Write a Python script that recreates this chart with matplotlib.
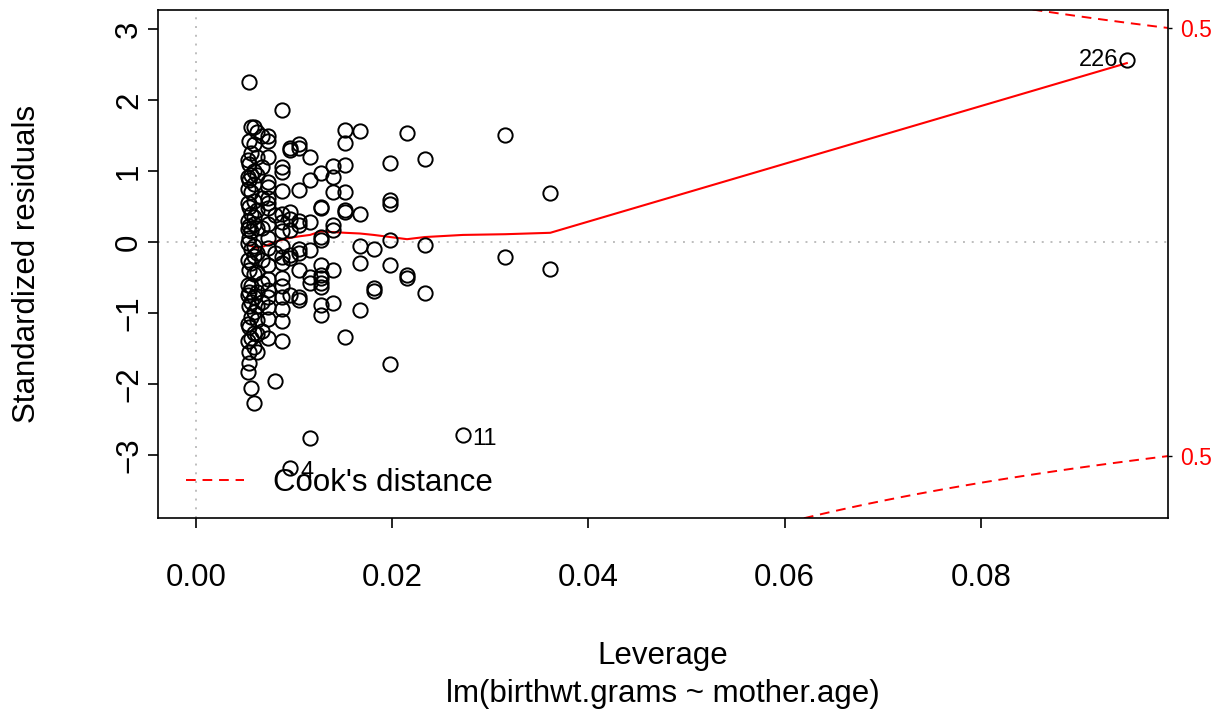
import numpy as np
import matplotlib
matplotlib.use('Agg')
import matplotlib.pyplot as plt
from matplotlib.lines import Line2D

plt.rc('font', family=['Liberation Sans', 'DejaVu Sans'])

# leverage of each column of points (one column per mother.age value)
col_lev = [0.0053, 0.0054, 0.0056, 0.0059, 0.0062, 0.0067, 0.0073, 0.0080,
           0.0087, 0.0096, 0.0105, 0.0116, 0.0127, 0.0139, 0.0152, 0.0167,
           0.0181, 0.0198, 0.0215, 0.0233, 0.0272, 0.0315, 0.0361, 0.0949]
# standardized residuals in each column
col_res = [
    [1.15, 0.92, 0.75, 0.55, 0.30, 0.18, -0.02, -0.25, -0.60, -0.75, -1.15, -1.40, -1.83],
    [2.25, 1.42, 1.10, 0.88, 0.50, 0.22, 0.05, -0.40, -0.70, -0.90, -1.20, -1.55, -1.70],
    [1.62, 1.25, 0.95, 0.70, 0.40, 0.15, -0.10, -0.30, -0.62, -0.85, -1.05, -1.35, -2.06],
    [1.62, 1.38, 1.00, 0.82, 0.58, 0.35, 0.25, -0.05, -0.20, -0.45, -0.78, -0.98, -1.28, -1.48, -2.27],
    [1.55, 1.20, 0.95, 0.45, 0.20, -0.15, -0.42, -0.70, -0.90, -1.10, -1.30, -1.55],
    [1.50, 1.05, 0.62, 0.20, -0.25, -0.58, -0.85, -1.25],
    [1.50, 1.42, 1.20, 0.85, 0.78, 0.62, 0.55, 0.48, 0.25, 0.05, -0.08, -0.32, -0.52, -0.68, -0.78, -0.92, -1.08, -1.35],
    [0.38, -0.15, -1.96],
    [1.86, 1.05, 0.98, 0.72, 0.40, 0.28, 0.15, -0.05, -0.21, -0.30, -0.50, -0.62, -0.78, -0.95, -1.11, -1.39],
    [1.33, 1.29, 0.42, 0.33, 0.17, -0.18, -0.23, -0.75, -3.18],
    [1.38, 1.33, 0.73, 0.30, 0.24, -0.10, -0.15, -0.39, -0.78, -0.82],
    [1.20, 0.87, 0.28, -0.11, -0.49, -0.58, -2.76],
    [0.97, 0.50, 0.48, 0.07, 0.03, -0.32, -0.47, -0.51, -0.58, -0.63, -0.89, -1.03],
    [1.07, 0.92, 0.71, 0.24, 0.17, -0.39, -0.86],
    [1.58, 1.39, 1.08, 0.70, 0.45, 0.42, -1.34],
    [1.56, 0.39, -0.06, -0.30, -0.96],
    [-0.10, -0.65, -0.69],
    [1.11, 0.59, 0.53, 0.03, -0.32, -1.72],
    [1.54, -0.47, -0.51],
    [1.17, -0.04, -0.72],
    [-2.72],
    [1.51, -0.21],
    [0.69, -0.38],
    [2.56],
]

# red smoother
smooth_lev = [0.0053, 0.0055, 0.0059, 0.0062, 0.0067, 0.0073, 0.0080, 0.0087,
              0.0096, 0.0105, 0.0116, 0.0127, 0.0139, 0.0152, 0.0167, 0.0181,
              0.0198, 0.0215, 0.0233, 0.0272, 0.0315, 0.0361, 0.0949]
smooth_res = [-0.04, -0.05, -0.07, -0.08, -0.07, -0.04, 0.00, 0.03,
              0.06, 0.08, 0.10, 0.15, 0.14, 0.13, 0.12, 0.10,
              0.07, 0.04, 0.07, 0.10, 0.11, 0.13, 2.52]

id_names = ['226', '11', '4']
id_lev = [0.0949, 0.0272, 0.0096]
id_res = [2.56, -2.72, -3.18]

cook_levels = [0.5]
n_params = 2

xticks = [0.0, 0.02, 0.04, 0.06, 0.08]
xtick_labels = ['0.00', '0.02', '0.04', '0.06', '0.08']
yticks = [-3, -2, -1, 0, 1, 2, 3]

lev = np.concatenate([[h] * len(r) for h, r in zip(col_lev, col_res)])
res = np.concatenate(col_res)

fs = 22.5
fig = plt.figure(figsize=(12.18, 7.15), dpi=100)
ax = fig.add_axes([158/1218, 1-518/715, 1010/1218, 508/715])
xlim = (-0.0039, 0.0991)
ylim = (-3.887, 3.268)

ax.axhline(0, color='#BEBEBE', ls=(0, (1, 3.5)), lw=1.4, zorder=1)
ax.axvline(0, color='#BEBEBE', ls=(0, (1, 3.5)), lw=1.4, zorder=1)

ax.plot(lev, res, ls='none', marker='o', mfc='none', mec='black', ms=10.3, mew=1.4, zorder=3)
ax.plot(smooth_lev, smooth_res, color='red', lw=1.5, zorder=2)

# Cook's distance contours
hh = np.linspace(min(lev.min(), lev.max()/100), xlim[1], 101)
right_pos = []
for lv in cook_levels:
    cl = np.sqrt(n_params*lv*(1-hh)/hh)
    ax.plot(hh, cl, color='red', ls=(0, (5, 3.5)), lw=1.4)
    ax.plot(hh, -cl, color='red', ls=(0, (5, 3.5)), lw=1.4)
    right_pos += [cl[-1], -cl[-1]]

for name, h, r in zip(id_names, id_lev, id_res):
    if name == '226':
        ax.annotate(name, (h, r), xytext=(-6, 0), textcoords='offset points',
                    ha='right', va='center', fontsize=17)
    else:
        ax.annotate(name, (h, r), xytext=(7, -3), textcoords='offset points',
                    ha='left', va='center', fontsize=17)

ax.set_xlim(xlim)
ax.set_ylim(ylim)
ax.set_xticks(xticks)
ax.set_xticklabels(xtick_labels)
ax.set_yticks(yticks)
ax.tick_params(direction='out', length=7.5, width=1.2, labelsize=fs, colors='black')
ax.tick_params(axis='x', pad=25)
ax.tick_params(axis='y', pad=2.5, labelrotation=90)
for lbl in ax.get_yticklabels():
    lbl.set_va('center')
for sp in ax.spines.values():
    sp.set_linewidth(1.2)

ax2 = ax.twinx()
ax2.set_ylim(ylim)
ax2.set_yticks(right_pos)
ax2.set_yticklabels(['0.5'] * len(right_pos))
ax2.tick_params(axis='y', length=3, width=1, pad=6, labelsize=16.5, labelcolor='red')
for sp in ax2.spines.values():
    sp.set_visible(False)

ax.legend(handles=[Line2D([], [], color='red', ls=(0, (5, 3.5)), lw=1.4)],
          labels=["Cook's distance"], loc='center left', bbox_to_anchor=(0.0277, 0.069),
          frameon=False, borderpad=0, borderaxespad=0, handlelength=1.85,
          handletextpad=0.95, fontsize=fs)

fig.text(663/1218, 1-656/715, 'Leverage', ha='center', va='center', fontsize=fs)
fig.text(663/1218, 1-694/715, 'lm(birthwt.grams ~ mother.age)', ha='center', va='center', fontsize=fs)
fig.text(27/1218, 1-264/715, 'Standardized residuals', rotation=90, ha='center', va='center', fontsize=fs)

fig.savefig('out.png', dpi=100)
